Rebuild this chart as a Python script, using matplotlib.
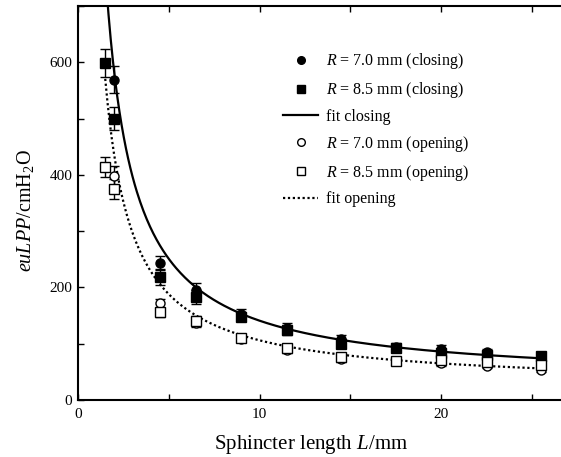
import numpy as np
import matplotlib
matplotlib.use('Agg')
from matplotlib import pyplot as plt
from matplotlib.lines import Line2D
from matplotlib.ticker import MultipleLocator

plt.rcParams['font.family'] = ['Liberation Serif', 'DejaVu Serif']
plt.rcParams['mathtext.fontset'] = 'custom'
plt.rcParams['mathtext.rm'] = 'Liberation Serif'
plt.rcParams['mathtext.it'] = 'Liberation Serif:italic'

# R = 7.0 mm, closing
x_c70 = [2, 4.5, 6.5, 9, 11.5, 14.5, 17.5, 20, 22.5, 25.5]
y_c70 = [569, 243, 195, 152, 128, 108, 95, 90, 85, 78]
e_c70 = [24, 12, 12, 10, 8, 8, 7, 7, 6, 5]

# R = 8.5 mm, closing
x_c85 = [1.5, 2, 4.5, 6.5, 9, 11.5, 14.5, 17.5, 20, 22.5, 25.5]
y_c85 = [598, 500, 218, 183, 148, 124, 100, 92, 83, 80, 79]
e_c85 = [25, 21, 14, 12, 8, 8, 8, 6, 6, 5, 5]

# R = 7.0 mm, opening
x_o70 = [2, 4.5, 6.5, 9, 11.5, 14.5, 17.5, 20, 22.5, 25.5]
y_o70 = [398, 172, 137, 108, 89, 73, 70, 65, 61, 53]
e_o70 = [18, 8, 8, 5, 5, 5, 4, 4, 4, 4]

# R = 8.5 mm, opening
x_o85 = [1.5, 2, 4.5, 6.5, 9, 11.5, 14.5, 17.5, 20, 22.5, 25.5]
y_o85 = [414, 375, 156, 141, 111, 92, 77, 70, 71, 68, 62]
e_o85 = [18, 18, 8, 8, 6, 5, 5, 4, 4, 4, 4]

# fit y = a + b / L
fit_close = (31, 1099)
fit_open = (24, 820)

fig = plt.figure(figsize=(5.61, 4.57), dpi=100)
ax = fig.add_axes([78 / 561, 57 / 457, 483 / 561, 394 / 457])

L = np.linspace(1.5, 25.5, 400)
ax.plot(L, fit_close[0] + fit_close[1] / L, color='black', lw=1.6, zorder=2)
ax.plot(L, fit_open[0] + fit_open[1] / L, color='black', lw=1.6,
        ls=(0, (1, 1.2)), zorder=2)

eb = dict(color='black', ecolor='black', elinewidth=1, capsize=3.4,
          capthick=1, ls='none', ms=6.5, zorder=3)
ax.errorbar(x_c70, y_c70, yerr=e_c70, fmt='o', mfc='black', **eb)
ax.errorbar(x_c85, y_c85, yerr=e_c85, fmt='s', mfc='black', **eb)
ax.errorbar(x_o70, y_o70, yerr=e_o70, fmt='o', mfc='white', mew=1, **eb)
ax.errorbar(x_o85, y_o85, yerr=e_o85, fmt='s', mfc='white', mew=1, **eb)

ax.set_xlim(0, 26.6)
ax.set_ylim(0, 700)
ax.xaxis.set_major_locator(MultipleLocator(10))
ax.xaxis.set_minor_locator(MultipleLocator(5))
ax.yaxis.set_major_locator(MultipleLocator(200))
ax.yaxis.set_minor_locator(MultipleLocator(100))
ax.tick_params(which='both', direction='in', top=True, right=False,
               length=4, width=1, labelsize=11)
ax.tick_params(axis='x', pad=6)
ax.tick_params(axis='y', pad=4)
ax.spines['right'].set_visible(False)
for s in ['left', 'bottom', 'top']:
    ax.spines[s].set_linewidth(1.5)

ax.set_xlabel('Sphincter length $L$/mm', fontsize=15)
ax.xaxis.set_label_coords(0.482, -0.085)
ax.set_ylabel('$euLPP$/cmH$_2$O', fontsize=14.5)
ax.yaxis.set_label_coords(-0.087, 0.48)

mk = dict(color='black', ls='none', ms=5.5)
handles = [
    Line2D([], [], marker='o', mfc='black', **mk),
    Line2D([], [], marker='s', mfc='black', **mk),
    Line2D([], [], color='black', lw=1.6),
    Line2D([], [], marker='o', mfc='white', mew=1, **mk),
    Line2D([], [], marker='s', mfc='white', mew=1, **mk),
    Line2D([], [], color='black', lw=1.6, ls=(0, (1, 1.2))),
]
labels = ['$R$ = 7.0 mm (closing)', '$R$ = 8.5 mm (closing)', 'fit closing',
          '$R$ = 7.0 mm (opening)', '$R$ = 8.5 mm (opening)', 'fit opening']
ax.legend(handles, labels, frameon=False,
          loc='upper left', bbox_to_anchor=(0.408, 0.905), fontsize=11.5,
          borderpad=0, handlelength=2.2, handletextpad=0.5,
          labelspacing=0.55)

fig.savefig('out.png', dpi=100)
